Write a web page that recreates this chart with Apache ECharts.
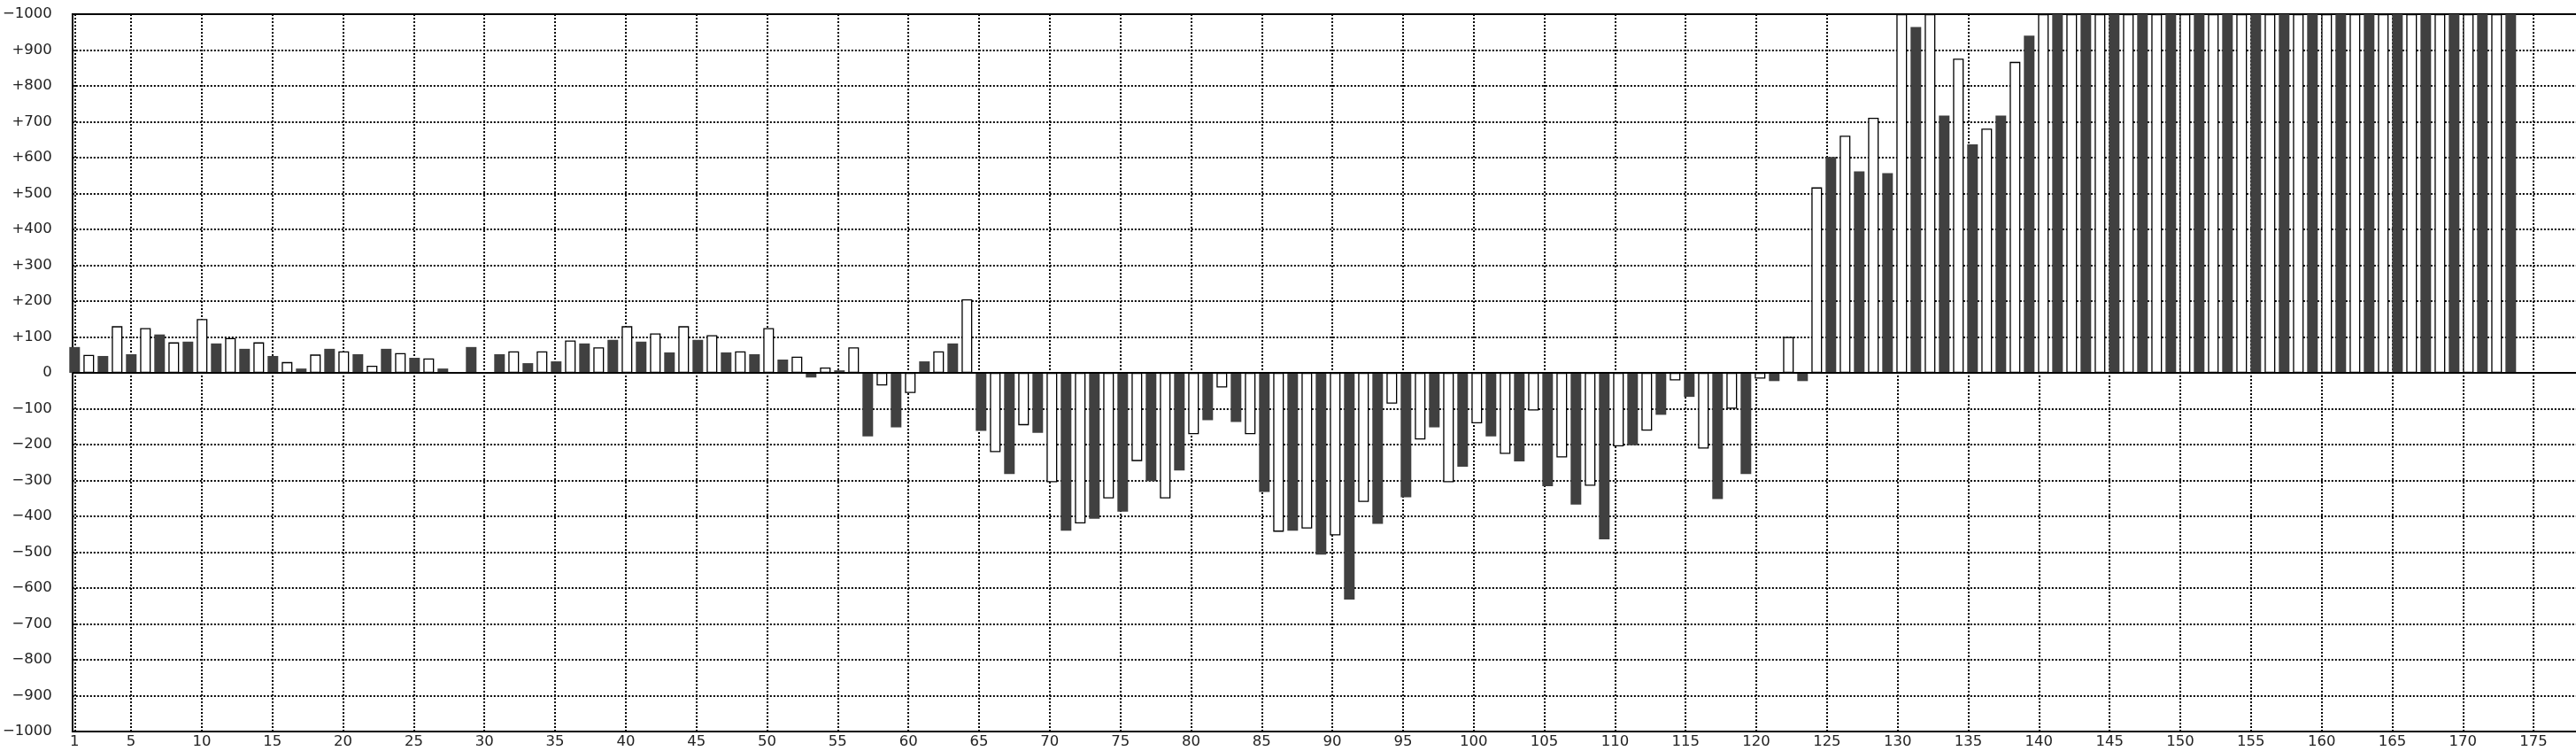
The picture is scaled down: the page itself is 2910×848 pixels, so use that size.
<!DOCTYPE html>
<html><head><meta charset="utf-8">
<script src="https://cdn.jsdelivr.net/npm/echarts@6/dist/echarts.min.js"></script>
<style>html,body{margin:0;padding:0;background:#fff;}#c{width:2910px;height:848px;}</style>
</head><body><div id="c"></div>
<script>
// Game numbers 1..175; odd games are dark bars, even games white bars.
const games = Array.from({ length: 175 }, (_, i) => String(i + 1));
const values = [
  72, 50, 47, 130, 52, 125, 107, 85, 87, 150,
  82, 97, 67, 85, 47, 30, 12, 51, 67, 60,
  52, 20, 67, 55, 42, 40, 12, 0, 72, 0,
  52, 60, 27, 60, 32, 90, 82, 71, 92, 130,
  87, 110, 57, 130, 92, 105, 57, 60, 52, 125,
  37, 45, -13, 15, 7, 71, -177, -35, -152, -56,
  32, 60, 82, 205, -162, -221, -282, -146, -167, -305,
  -440, -420, -407, -350, -387, -246, -302, -350, -272, -171,
  -132, -41, -137, -171, -332, -443, -440, -434, -507, -453,
  -632, -360, -421, -86, -347, -186, -152, -305, -262, -141,
  -177, -226, -247, -105, -316, -236, -367, -315, -464, -205,
  -202, -161, -117, -21, -67, -211, -352, -100, -282, -16,
  -23, 100, -23, 517, 602, 661, 562, 711, 557, 1000,
  964, 1000, 717, 876, 637, 681, 717, 867, 940, 1000,
  1000, 1000, 1000, 1000, 1000, 1000, 1000, 1000, 1000, 1000,
  1000, 1000, 1000, 1000, 1000, 1000, 1000, 1000, 1000, 1000,
  1000, 1000, 1000, 1000, 1000, 1000, 1000, 1000, 1000, 1000,
  1000, 1000, 1000
];
const xTickValues = [1, 5, 10, 15, 20, 25, 30, 35, 40, 45, 50, 55, 60, 65, 70, 75, 80, 85, 90, 95,
  100, 105, 110, 115, 120, 125, 130, 135, 140, 145, 150, 155, 160, 165, 170, 175];
const yTickValues = [-1000, -900, -800, -700, -600, -500, -400, -300, -200, -100, 0,
  100, 200, 300, 400, 500, 600, 700, 800, 900, 1000];
const yTickLabels = ['\u22121000', '\u2212900', '\u2212800', '\u2212700', '\u2212600', '\u2212500', '\u2212400', '\u2212300', '\u2212200', '\u2212100', '0',
  '+100', '+200', '+300', '+400', '+500', '+600', '+700', '+800', '+900', '\u22121000'];

const darkStyle = { color: '#404040', borderWidth: 0 };
const whiteStyle = { color: '#ffffff', borderColor: '#000000', borderWidth: 1.3 };
const FONT = 'DejaVu Sans';
const TXT = '#222';
const dotted = { color: '#000', width: 2, type: [2, 2] };
const solid = { color: '#000', width: 2 };
const TOP = 16, BOTTOM = 22;
const STEP = 16;            // px per game
const FIRST_CENTER = 84.3;  // px of game 1

const chart = echarts.init(document.getElementById('c'), null, { renderer: 'canvas' });
chart.setOption({
  animation: false,
  backgroundColor: '#ffffff',
  textStyle: { fontFamily: FONT },
  grid: [
    // 0: frame, y labels, horizontal grid
    { left: 75, right: 0, top: TOP, bottom: BOTTOM, containLabel: false },
    // 1: x labels and vertical grid (value 0 at one step left of game 1)
    { left: FIRST_CENTER - STEP, width: 178 * STEP, top: TOP, bottom: BOTTOM, containLabel: false },
    // 2: bars (one category band per game)
    { left: FIRST_CENTER - STEP / 2, width: 175 * STEP, top: TOP, bottom: BOTTOM, containLabel: false }
  ],
  xAxis: [{
    gridIndex: 0, type: 'value', min: 0, max: 1, position: 'bottom',
    axisLine: { show: true, onZero: false, lineStyle: solid },
    axisTick: { show: false }, axisLabel: { show: false }, splitLine: { show: false }
  }, {
    gridIndex: 0, type: 'value', min: 0, max: 1, position: 'top',
    axisLine: { show: true, onZero: false, lineStyle: solid },
    axisTick: { show: false }, axisLabel: { show: false }, splitLine: { show: false }
  }, {
    gridIndex: 1, type: 'value', min: 0, max: 178, position: 'bottom',
    axisLine: { show: false },
    axisTick: { show: false, customValues: xTickValues },
    axisLabel: { customValues: xTickValues, color: TXT, fontSize: 16.5, fontFamily: FONT, margin: 3,
      formatter: v => String(v) },
    splitLine: { show: true, lineStyle: dotted }
  }, {
    gridIndex: 2, type: 'category', data: games, boundaryGap: true, show: false
  }],
  yAxis: [{
    gridIndex: 0, type: 'value', min: -1000, max: 1000, interval: 100,
    axisLine: { show: true, onZero: false, lineStyle: solid },
    axisTick: { show: false },
    axisLabel: { color: TXT, fontSize: 16.5, fontFamily: FONT, margin: 23,
      formatter: v => { const i = yTickValues.indexOf(v); return i >= 0 ? yTickLabels[i] : ''; } },
    splitLine: { show: true, lineStyle: dotted }
  }, {
    gridIndex: 1, type: 'value', min: -1000, max: 1000, interval: 100, show: false
  }, {
    gridIndex: 2, type: 'value', min: -1000, max: 1000, interval: 100, show: false
  }],
  series: [{
    type: 'bar', xAxisIndex: 3, yAxisIndex: 2, barWidth: 12, z: 2,
    data: values.map((v, i) => ({ value: v, itemStyle: ((i + 1) % 2 === 1) ? darkStyle : whiteStyle }))
  }, {
    type: 'line', xAxisIndex: 0, yAxisIndex: 0, data: [], z: 5,
    markLine: {
      silent: true, symbol: ['none', 'none'], label: { show: false },
      lineStyle: { color: '#000', width: 2, type: 'solid' },
      data: [{ yAxis: 0 }]
    }
  }]
});
</script></body></html>
